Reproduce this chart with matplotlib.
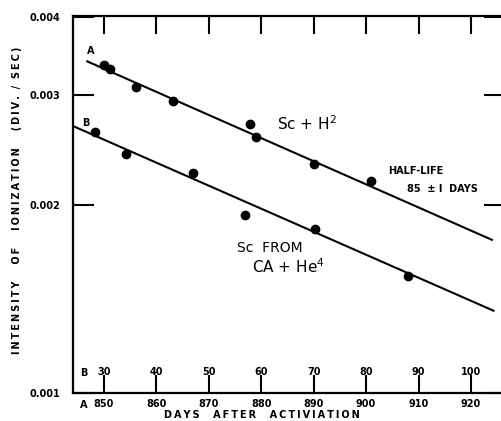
import numpy as np
import matplotlib
matplotlib.use('Agg')
import matplotlib.pyplot as plt
from matplotlib.transforms import blended_transform_factory

# data (days after activation, A scale; B = A - 820)
a_days = [849.9, 851.2, 856.1, 863.2, 877.8, 879.0, 890.1, 900.9]
a_vals = [0.00336, 0.00330, 0.00309, 0.00294, 0.00270, 0.00257, 0.00233, 0.00219]
b_days = [28.2, 34.1, 47.0, 56.8, 70.3, 88.0]
b_vals = [0.00262, 0.00242, 0.00225, 0.00193, 0.00183, 0.00154]
a_line_days = [846.8, 924.0]
a_line_vals = [0.00340, 0.00176]
b_line_days = [24.0, 104.3]
b_line_vals = [0.00268, 0.001355]

a_ticks = [850, 860, 870, 880, 890, 900, 910, 920]
b_ticks = ['30', '40', '50', '60', '70', '80', '90', '100']
y_ticks = [0.001, 0.002, 0.003, 0.004]
y_labels = ['0.001', '0.002', '0.003', '0.004']
offset = 820


def spaced(s):
    # wide lettering like the original
    return '\u2009'.join(s)


fig = plt.figure(figsize=(5.01, 4.21), dpi=100)
ax = fig.add_axes([73 / 501, 28 / 421, 432 / 501, 377 / 421])
ax.set_yscale('log')
ax.set_xlim(844.08, 926.5)
ax.set_ylim(0.001, 0.00402)

b_x = np.array(b_days) + offset
ax.plot(a_line_days, a_line_vals, 'k', lw=1.5)
ax.plot(np.array(b_line_days) + offset, b_line_vals, 'k', lw=1.5)
ax.plot(a_days, a_vals, 'ko', ms=6)
ax.plot(b_x, b_vals, 'ko', ms=6)

for s in ax.spines.values():
    s.set_linewidth(1.6)

ax.set_xticks(a_ticks)
ax.set_xticklabels([str(t) for t in a_ticks], fontsize=7, fontweight='bold')
ax.tick_params(axis='x', which='major', direction='in', length=13, width=1.5,
               top=True, bottom=True, pad=4)
ax.set_yticks(y_ticks)
ax.yaxis.set_minor_locator(matplotlib.ticker.NullLocator())
ax.set_yticklabels(y_labels, fontsize=7, fontweight='bold')
ax.tick_params(axis='y', which='major', direction='in', length=15, width=1.5,
               right=True, left=True, pad=9)

tr = blended_transform_factory(ax.transData, ax.transAxes)
for x, lab in zip(a_ticks, b_ticks):
    ax.text(x, 0.042, lab, transform=tr, ha='center', va='bottom',
            fontsize=7, fontweight='bold')
ax.text(846.1, 0.04, 'B', transform=tr, ha='center', va='bottom',
        fontsize=7, fontweight='bold')
fig.text(84 / 501, (421 - 405) / 421, 'A', ha='center', va='center',
         fontsize=7, fontweight='bold')

ax.text(847.4, 0.00347, 'A', ha='center', va='bottom', fontsize=7, fontweight='bold')
ax.text(846.6, 0.00266, 'B', ha='center', va='bottom', fontsize=7, fontweight='bold')

ax.text(883.0, 0.00264, 'Sc + H$^2$', fontsize=11, ha='left', va='baseline')
ax.text(904.2, 0.002244, 'HALF-LIFE', fontsize=7, fontweight='bold',
        va='baseline')
ax.text(907.8, 0.00210, '85  \u00b1 I  DAYS', fontsize=7, fontweight='bold',
        va='baseline')
ax.text(875.3, 0.00168, 'Sc  FROM', fontsize=10, va='baseline')
ax.text(878.2, 0.001556, 'CA + He$^4$', fontsize=11, va='baseline')

fig.text(262 / 501, 1 / 421, spaced('DAYS') + '    ' + spaced('AFTER') + '    '
         + spaced('ACTIVIATION'), ha='center', va='bottom',
         fontsize=7, fontweight='bold')
fig.text(17 / 501, (421 - 200) / 421,
         spaced('INTENSITY') + '     ' + spaced('OF') + '     '
         + spaced('IONIZATION') + '     ' + spaced('(DIV.') + '  /  '
         + spaced('SEC)'), rotation=90,
         ha='center', va='center', fontsize=7, fontweight='bold')

fig.savefig('out.png', dpi=100)
